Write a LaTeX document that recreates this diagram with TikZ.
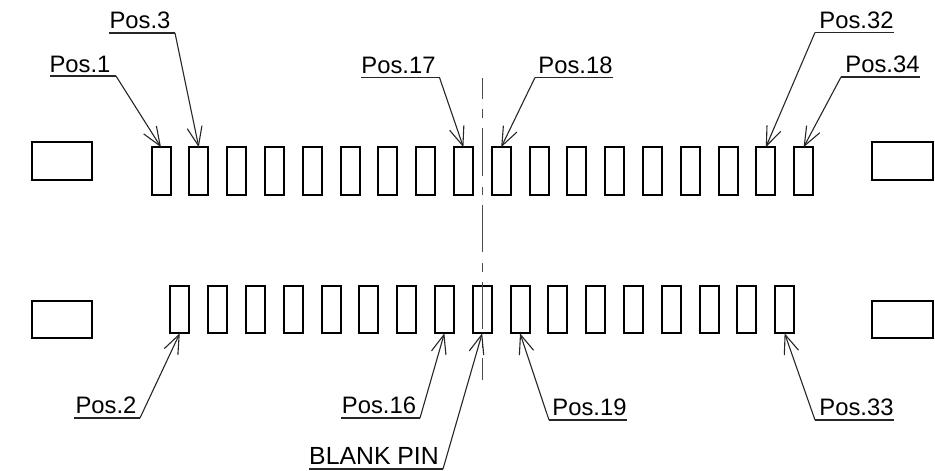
\documentclass[tikz,border=0pt]{standalone}
\usepackage{fontspec}
\setmainfont{Liberation Sans}
\usetikzlibrary{arrows.meta}
\tikzset{
  pin/.style={draw,line width=2pt,minimum width=19pt,minimum height=47.5pt,inner sep=0pt,outer sep=0pt},
  side/.style={draw,line width=2pt,minimum width=60.5pt,minimum height=37.5pt,inner sep=0pt,outer sep=0pt},
  lbl/.style={font=\fontsize{23.8}{23.8}\selectfont,inner sep=0pt,anchor=base},
  lblb/.style={font=\fontsize{24.8}{24.8}\selectfont,inner sep=0pt,anchor=base},
  leader/.style={line width=1.1pt,draw=black!85,-{Straight Barb[length=19pt,width=15pt,line width=1.1pt]}},
  shelf/.style={line width=1.1pt,draw=black!85},
  centre/.style={line width=1.1pt,draw=black!70}
}
\begin{document}
\begin{tikzpicture}[x=1pt,y=-1pt]
\useasboundingbox (0,0) rectangle (935,471);
\node[side] (sTL) at (62,161) {};
\node[side] (sTR) at (902.3,161) {};
\node[side] (sBL) at (62,319.5) {};
\node[side] (sBR) at (902.3,319.5) {};
\foreach \i in {0,...,17} {
  \node[pin] (t\i) at ({161+37.8*\i},171) {};
}
\foreach \i in {0,...,16} {
  \node[pin] (b\i) at ({179.8+37.8*\i},309.5) {};
}
% centre line
\coordinate (c1a) at (482.3,78); \coordinate (c1b) at (482.3,99);
\coordinate (c2a) at (482.3,109); \coordinate (c2b) at (482.3,118);
\coordinate (c3a) at (482.3,128); \coordinate (c3b) at (482.3,176);
\coordinate (c4a) at (482.3,187); \coordinate (c4b) at (482.3,195);
\coordinate (c5a) at (482.3,205); \coordinate (c5b) at (482.3,252);
\coordinate (c6a) at (482.3,263); \coordinate (c6b) at (482.3,272);
\coordinate (c7a) at (482.3,282); \coordinate (c7b) at (482.3,329);
\coordinate (c8a) at (482.3,339); \coordinate (c8b) at (482.3,348);
\coordinate (c9a) at (482.3,358); \coordinate (c9b) at (482.3,380);
\foreach \k in {1,...,9} { \draw[centre] (c\k a) -- (c\k b); }
% labels
\node[lbl] (p1) at (80,72) {Pos.1};
\coordinate (p1l) at (50,76); \coordinate (p1r) at (116,76);
\draw[shelf] (p1l) -- (p1r);
\draw[leader] (p1r) -- (t0.north);
\node[lbl] (p3) at (140,28.5) {Pos.3};
\coordinate (p3l) at (109,33); \coordinate (p3r) at (175,33);
\draw[shelf] (p3l) -- (p3r);
\draw[leader] (p3r) -- (t1.north);
\node[lbl] (p17) at (398.5,73.5) {Pos.17};
\coordinate (p17l) at (361,77.5); \coordinate (p17r) at (439.5,77.5);
\draw[shelf] (p17l) -- (p17r);
\draw[leader] (p17r) -- (t8.north);
\node[lbl] (p18) at (575.5,73.5) {Pos.18};
\coordinate (p18l) at (613,77.5); \coordinate (p18r) at (535,77.5);
\draw[shelf] (p18l) -- (p18r);
\draw[leader] (p18r) -- (t9.north);
\node[lbl] (p32) at (856.5,28.5) {Pos.32};
\coordinate (p32l) at (894,32.5); \coordinate (p32r) at (815,32.5);
\draw[shelf] (p32l) -- (p32r);
\draw[leader] (p32r) -- (t16.north);
\node[lbl] (p34) at (882.5,72.5) {Pos.34};
\coordinate (p34l) at (920,77); \coordinate (p34r) at (841,77);
\draw[shelf] (p34l) -- (p34r);
\draw[leader] (p34r) -- (t17.north);
\node[lbl] (p2) at (106,413.5) {Pos.2};
\coordinate (p2l) at (74,418); \coordinate (p2r) at (140,418);
\draw[shelf] (p2l) -- (p2r);
\draw[leader] (p2r) -- (b0.south);
\node[lbl] (p16) at (379,413.5) {Pos.16};
\coordinate (p16l) at (341,418); \coordinate (p16r) at (420,418);
\draw[shelf] (p16l) -- (p16r);
\draw[leader] (p16r) -- (b7.south);
\node[lblb] (pb) at (374,464) {BLANK PIN};
\coordinate (pbl) at (309,469); \coordinate (pbr) at (443,469);
\draw[shelf] (pbl) -- (pbr);
\draw[leader] (pbr) -- (b8.south);
\node[lbl] (p19) at (589.5,415.5) {Pos.19};
\coordinate (p19l) at (627,420); \coordinate (p19r) at (549,420);
\draw[shelf] (p19l) -- (p19r);
\draw[leader] (p19r) -- (b9.south);
\node[lbl] (p33) at (856.5,415.5) {Pos.33};
\coordinate (p33l) at (894,420); \coordinate (p33r) at (815,420);
\draw[shelf] (p33l) -- (p33r);
\draw[leader] (p33r) -- (b16.south);
\end{tikzpicture}
\end{document}
